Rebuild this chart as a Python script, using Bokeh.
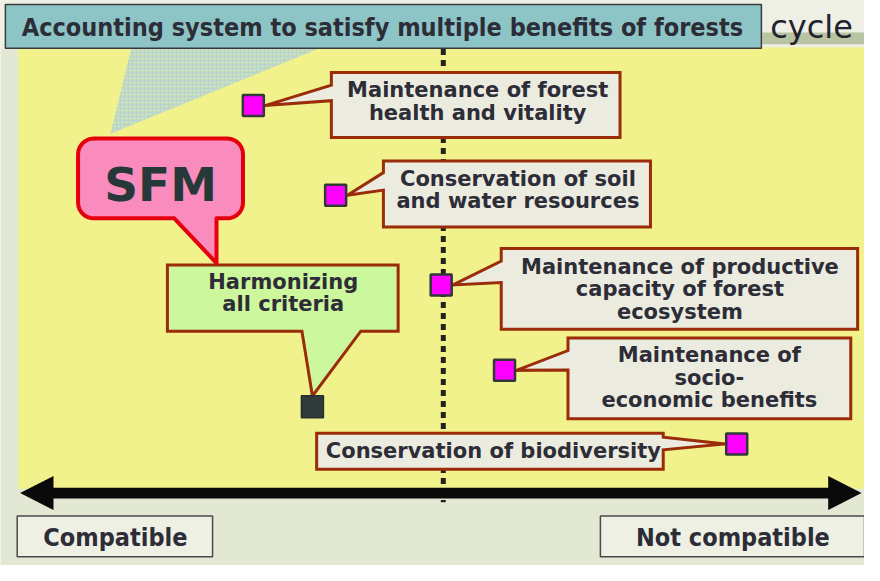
import numpy as np
from bokeh.plotting import figure
from bokeh.models import Range1d
from bokeh.core.properties import value
from bokeh.embed import file_html
from bokeh.resources import INLINE

# ---------------- data ----------------
criteria = [
    "Maintenance of forest\nhealth and vitality",
    "Conservation of soil\nand water resources",
    "Maintenance of productive\ncapacity of forest\necosystem",
    "Maintenance of\nsocio-\neconomic benefits",
    "Conservation of biodiversity",
]
incompatibility = [-45.0, -25.5, -0.5, 14.5, 69.5]   # 0 = centre line
level = [1.0, 2.06, 3.12, 4.13, 5.0]
sfm_score = [-31.0]
sfm_level = [4.56]
axis_labels = ["Compatible", "Not compatible"]
title_text = "Accounting system to satisfy multiple benefits of forests"
sfm_label = "SFM"
sfm_note = "Harmonizing\nall criteria"
corner_text = "cycle"

# ---------------- layout helpers (reference pixel -> data units) ----------------
W, H = 864, 565
CX, PXU = 451.0, 4.3
LY0, PXL = 108.0, 87.0


def X(px):
    return (px - CX) / PXU


def Y(py):
    return 1.0 + (py - LY0) / PXL


p = figure(width=W, height=H, x_range=Range1d(X(0), X(880)), y_range=Range1d(Y(581), Y(0)),
           output_backend="svg", toolbar_location=None, min_border=0)
p.axis.visible = False
p.grid.visible = False
p.outline_line_color = None
p.background_fill_color = "#e3e8d4"
p.border_fill_color = "#e3e8d4"

TXT = "#2d2d38"
BROWN = "#9a2c0a"
FONT = value("DejaVu Sans")
CFONT = value("DejaVu Sans Condensed")


def box(l, t, r, b, **kw):
    p.quad(left=X(l), right=X(r), top=Y(t), bottom=Y(b), **kw)


# background panels
box(0, 0, 880, 50, fill_color="#eef0e6", line_color=None)
box(18, 48, 880, 502, fill_color="#f2f28d", line_color=None)
box(776, 33, 880, 45, fill_color="#b8c4a2", line_color=None)

# dotted pointer from title to SFM
p.patch(x=[X(133), X(323), X(112)], y=[Y(50), Y(50), Y(137)],
        fill_color="#b8d6cf", line_color=None, hatch_pattern="dot",
        hatch_color="#e6ea98", hatch_scale=4, hatch_weight=1.5)

# centre dashed line (score 0)
p.line(x=[0, 0], y=[Y(50), Y(516)], line_color="#222222", line_width=5, line_dash="6 5")

# double arrow
box(48, 501, 850, 512, fill_color="#0a0a0a", line_color=None)
p.patch(x=[X(20), X(54), X(54)], y=[Y(506.5), Y(489), Y(524)], fill_color="#0a0a0a", line_color=None)
p.patch(x=[X(877), X(843), X(843)], y=[Y(506.5), Y(489), Y(524)], fill_color="#0a0a0a", line_color=None)

# axis label boxes
box(17, 530, 216, 572, fill_color="#eef0e4", line_color="#4a4a4a", line_width=1.5)
box(611, 530, 880, 572, fill_color="#eef0e4", line_color="#4a4a4a", line_width=1.5)
p.text(x=[X(117), X(746)], y=[Y(552), Y(552)], text=axis_labels, text_font=CFONT,
       text_font_style="bold", text_font_size="25px", text_color=TXT,
       text_align="center", text_baseline="middle")

# callouts for criteria
boxes = [(337, 74, 631, 141), (390, 165, 662, 233), (510, 255, 873, 338),
         (578, 347, 866, 430), (322, 445, 675, 482)]
bases = [(87, 103), (177, 195), (268, 290), (360, 380), (449, 462)]
for i, ((l, t, r, b), (b0, b1)) in enumerate(zip(boxes, bases)):
    sx, sy = incompatibility[i], level[i]
    if i < 4:
        tip = (sx + 12 / PXU, sy)
        xs = [X(l), X(r), X(r), X(l), X(l), tip[0], X(l)]
        ys = [Y(t), Y(t), Y(b), Y(b), Y(b1), tip[1], Y(b0)]
    else:
        tip = (sx - 12 / PXU, sy)
        xs = [X(l), X(r), X(r), tip[0], X(r), X(r), X(l)]
        ys = [Y(t), Y(t), Y(b0), tip[1], Y(b1), Y(b), Y(b)]
    p.patch(x=xs, y=ys, fill_color="#ebebdf", line_color=BROWN, line_width=3, line_join="miter")

text_cx = [486, 527, 692, 722, 502]
text_cy = [104, 195, 297, 388, 463]
p.text(x=[X(v) for v in text_cx], y=[Y(v) for v in text_cy], text=criteria, text_font=FONT,
       text_font_style="bold", text_font_size="21px", text_color=TXT, text_align="center",
       text_baseline="middle", text_line_height=0.94)

# Harmonizing callout pointing at SFM square
sfx, sfy = sfm_score[0], sfm_level[0]
hx = [X(170), X(405), X(405), X(367), sfx, X(307), X(170)]
hy = [Y(272), Y(272), Y(340), Y(340), sfy - 11 / PXL, Y(340), Y(340)]
p.patch(x=hx, y=hy, fill_color="#cdf79c", line_color=BROWN, line_width=3, line_join="miter")
p.text(x=[X(288)], y=[Y(301)], text=[sfm_note], text_font=FONT, text_font_style="bold",
       text_font_size="21px", text_color=TXT, text_align="center", text_baseline="middle",
       text_line_height=0.94)

# SFM rounded speech bubble
l, t, r, b, rad = 79, 142, 247, 224, 16
pts = []


def arc(cx, cy, a0, a1):
    for a in np.linspace(a0, a1, 8):
        pts.append((cx + rad * np.cos(a), cy + rad * np.sin(a)))


arc(l + rad, t + rad, np.pi, 1.5 * np.pi)
arc(r - rad, t + rad, 1.5 * np.pi, 2 * np.pi)
arc(r - rad, b - rad, 0, 0.5 * np.pi)
pts += [(220, b), (220, 270), (177, b)]
arc(l + rad, b - rad, 0.5 * np.pi, np.pi)
p.patch(x=[X(a) for a, _ in pts], y=[Y(c) for _, c in pts], fill_color="#f98cbc",
        line_color="#e4000c", line_width=4, line_join="round")
p.text(x=[X(163)], y=[Y(189)], text=[sfm_label], text_font=FONT, text_font_style="bold",
       text_font_size="47px", text_color="#263838", text_align="center", text_baseline="middle")

# points
p.scatter(x=incompatibility, y=level, marker="square", size=21, fill_color="#ff00ff",
          line_color="#303838", line_width=2.5)
p.scatter(x=sfm_score, y=sfm_level, marker="square", size=22, fill_color="#2e3b3a",
          line_color="#263030", line_width=1.5)

# title box
box(5, 4, 775, 49, fill_color="#8dc4c6", line_color="#3a3a3a", line_width=1.5)
p.text(x=[X(389)], y=[Y(28)], text=[title_text], text_font=CFONT, text_font_style="bold",
       text_font_size="25px", text_color=TXT, text_align="center", text_baseline="middle")
p.text(x=[X(784)], y=[Y(27)], text=[corner_text], text_font=value("DejaVu Sans"),
       text_font_size="32px", text_color="#22222e", text_align="left", text_baseline="alphabetic")

open("out.html", "w").write(file_html(p, INLINE))
